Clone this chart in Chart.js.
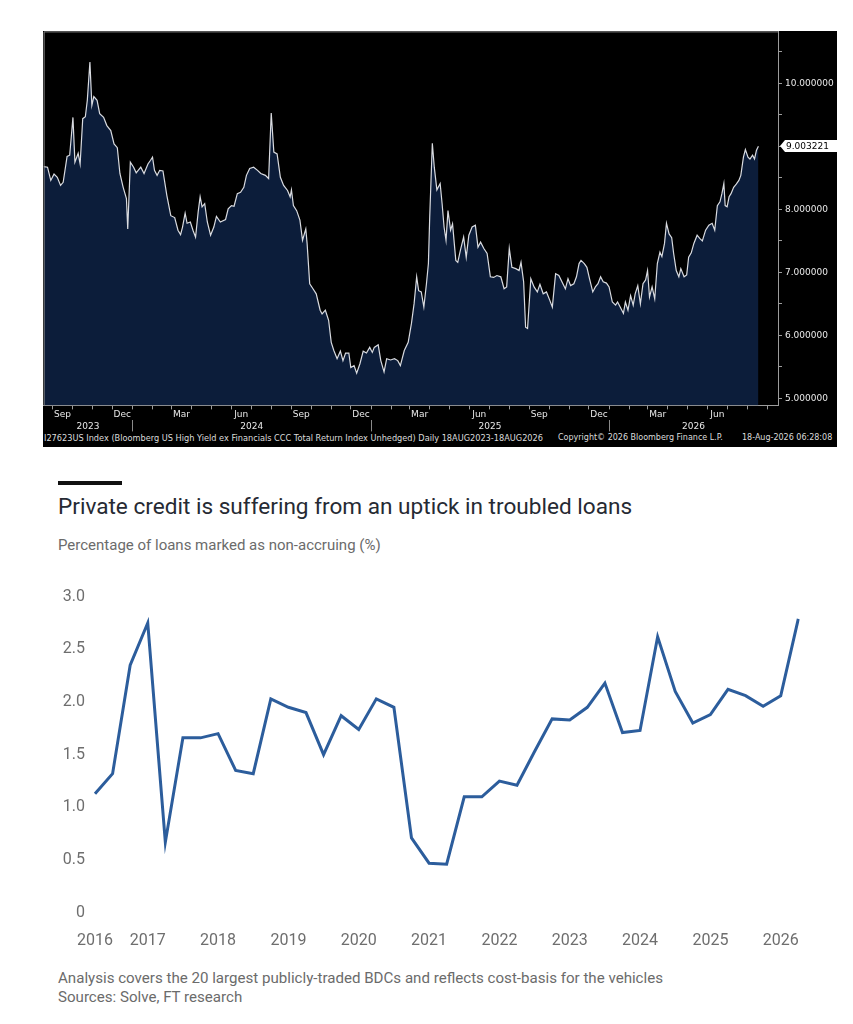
<!DOCTYPE html>
<html>
<head>
<meta charset="utf-8">
<script src="https://cdn.jsdelivr.net/npm/chart.js@4.4.1/dist/chart.umd.min.js"></script>
<style>
  html, body { margin:0; padding:0; background:#fff; }
  body { width:853px; height:1024px; position:relative; overflow:hidden; font-family: Roboto, sans-serif; }
  #bbg { position:absolute; left:43px; top:31px; width:794px; height:416px; background:#000; }
  #topCanvas { position:absolute; left:0; top:0; }
  .foot { position:absolute; top:402px; font-family:'DejaVu Sans', sans-serif; font-size:8px; line-height:10px; color:#dcdcdc; white-space:nowrap; }
  #ftbar { position:absolute; left:58px; top:481px; width:64px; height:4px; background:#111; }
  #fttitle { position:absolute; left:58px; top:493px; font-size:22.6px; line-height:27px; color:#262a33; white-space:nowrap; }
  #ftsub { position:absolute; left:58px; top:535px; font-size:15px; line-height:20px; color:#6b6b6b; white-space:nowrap; }
  #botCanvas { position:absolute; left:0; top:570px; }
  .ftnote { position:absolute; left:58px; font-size:15.1px; line-height:19px; color:#6b6b6b; white-space:nowrap; }
</style>
</head>
<body>
<div id="bbg">
  <canvas id="topCanvas" width="794" height="402"></canvas>
  <div class="foot" style="left:1px;font-size:8.2px">I27623US Index (Bloomberg US High Yield ex Financials CCC Total Return Index Unhedged) Daily 18AUG2023-18AUG2026</div>
  <div class="foot" style="left:515px">Copyright© 2026 Bloomberg Finance L.P.</div>
  <div class="foot" style="left:699px">18-Aug-2026 06:28:08</div>
</div>

<div id="ftbar"></div>
<div id="fttitle">Private credit is suffering from an uptick in troubled loans</div>
<div id="ftsub">Percentage of loans marked as non-accruing (%)</div>
<canvas id="botCanvas" width="853" height="390"></canvas>
<div class="ftnote" style="top:969px">Analysis covers the 20 largest publicly-traded BDCs and reflects cost-basis for the vehicles</div>
<div class="ftnote" style="top:988px">Sources: Solve, FT research</div>

<script>
// ---------------- Top chart data (Bloomberg CCC index) ----------------
const topStartDate = '2023-08-18';
const topEndDate = '2026-08-18';
// days elapsed since topStartDate
const topDays = [
  0,6,11,16,21,26,30,36,40,45,48,53,56,60,64,67,71,74,77,82,86,92,97,103,108,113,117,122,127,129,
  133,138,142,149,154,160,164,167,170,174,178,183,189,195,201,206,210,213,217,220,225,229,233,237,240,243,247,251,256,261,
  265,271,279,283,288,292,297,302,307,311,316,322,328,333,340,345,349,353,358,363,368,374,378,380,383,388,393,397,402,404,
  408,413,418,424,427,432,437,441,445,450,455,459,463,468,471,476,480,485,490,495,500,504,507,513,517,522,526,532,538,543,
  547,553,559,564,568,572,575,579,583,587,590,592,596,599,603,608,611,614,617,620,624,627,632,635,639,644,648,652,657,662,
  666,670,675,680,685,690,695,701,706,710,714,718,724,729,732,736,739,742,747,752,757,761,766,771,776,780,785,790,800,804,
  808,813,817,821,824,829,833,837,842,846,850,854,858,863,867,872,877,880,884,889,892,896,900,904,907,911,915,919,923,926,
  929,933,937,941,945,948,952,955,959,963,966,970,974,977,982,986,989,993,997,1002,1006,1010,1015,1020,1025,1029,1033,1037,1040,1043,
  1045,1048,1051,1054,1058,1062,1066,1069,1073,1076,1080,1083,1087,1090,1093,1096
];
const topValues = [
  8.68,8.67,8.46,8.56,8.51,8.38,8.43,8.84,8.86,9.46,8.75,8.89,8.72,9.44,9.47,9.73,10.34,9.65,9.79,9.73,9.52,9.46,9.33,9.25,9.04,8.98,8.57,8.35,8.17,7.69,
  8.75,8.67,8.58,8.67,8.57,8.72,8.78,8.83,8.62,8.54,8.62,8.61,8.22,7.90,7.87,7.67,7.60,7.72,7.94,7.78,7.80,7.67,7.56,7.96,8.20,8.04,8.09,7.80,7.59,7.72,
  7.89,7.80,7.84,8.01,8.06,8.05,8.25,8.27,8.35,8.54,8.65,8.67,8.62,8.57,8.54,8.49,9.53,8.91,8.88,8.51,8.38,8.30,8.20,8.31,8.06,7.98,7.83,7.51,7.69,7.46,
  6.82,6.74,6.66,6.40,6.34,6.40,6.24,5.89,5.76,5.63,5.75,5.60,5.72,5.72,5.49,5.52,5.40,5.55,5.75,5.72,5.81,5.73,5.81,5.85,5.60,5.42,5.63,5.61,5.63,5.60,
  5.52,5.76,5.89,6.19,6.50,6.93,6.71,6.69,6.45,6.82,7.14,7.88,9.05,8.67,8.31,8.41,8.09,7.72,7.51,7.98,7.67,7.77,7.19,7.16,7.35,7.56,7.24,7.59,7.72,7.75,
  7.40,7.48,7.38,7.30,6.93,6.92,6.95,6.93,6.74,6.77,7.38,7.08,7.06,7.03,7.16,6.85,6.13,6.11,6.90,6.77,6.69,6.81,6.66,6.69,6.56,6.45,6.98,6.95,6.74,6.90,
  6.79,6.82,6.93,7.14,7.19,7.14,7.08,6.90,6.69,6.77,6.82,6.93,6.85,6.83,6.77,6.53,6.48,6.53,6.45,6.35,6.53,6.40,6.63,6.48,6.66,6.79,6.50,6.82,6.88,7.03,
  6.61,6.77,6.58,7.14,7.32,7.25,7.46,7.78,7.61,7.55,7.30,7.03,6.93,7.06,6.93,6.96,7.24,7.31,7.46,7.59,7.54,7.50,7.67,7.75,7.78,7.67,8.06,8.12,8.25,8.41,
  8.06,8.04,8.20,8.25,8.35,8.40,8.46,8.54,8.83,8.95,8.83,8.80,8.86,8.80,8.94,9.003221
];
const topYTickLabels = [5, 6, 7, 8, 9, 10];
const topMonthNames = ['Jan','Feb','Mar','Apr','May','Jun','Jul','Aug','Sep','Oct','Nov','Dec'];
const topLabelledMonths = ['Sep','Dec','Mar','Jun'];
const topYears = [2023, 2024, 2025, 2026];

// ---------------- Bottom chart data (FT) ----------------
const ncQuarters = [
  'Q2 2016','Q3 2016','Q4 2016',
  'Q1 2017','Q2 2017','Q3 2017','Q4 2017',
  'Q1 2018','Q2 2018','Q3 2018','Q4 2018',
  'Q1 2019','Q2 2019','Q3 2019','Q4 2019',
  'Q1 2020','Q2 2020','Q3 2020','Q4 2020',
  'Q1 2021','Q2 2021','Q3 2021','Q4 2021',
  'Q1 2022','Q2 2022','Q3 2022','Q4 2022',
  'Q1 2023','Q2 2023','Q3 2023','Q4 2023',
  'Q1 2024','Q2 2024','Q3 2024','Q4 2024',
  'Q1 2025','Q2 2025','Q3 2025','Q4 2025',
  'Q1 2026','Q2 2026'
];
const ncValues = [
  1.13,1.32,2.35,
  2.75,0.67,1.66,1.66,
  1.70,1.35,1.32,2.03,
  1.95,1.90,1.50,1.87,
  1.74,2.03,1.95,0.71,
  0.47,0.46,1.10,1.10,
  1.25,1.21,1.53,1.84,
  1.83,1.95,2.18,1.71,
  1.73,2.62,2.10,1.80,
  1.88,2.12,2.06,1.96,
  2.06,2.79
];
const ncYTicks = [0, 0.5, 1, 1.5, 2, 2.5, 3];

// ---------------- Top chart ----------------
const DAY = 864e5;
const t0 = Date.parse(topStartDate + 'T00:00:00Z');
const tEnd = (Date.parse(topEndDate + 'T00:00:00Z') - t0) / DAY;
const X_MAX = tEnd + 30;

const monthStarts = [], monthMids = [], midLabel = new Map();
for (const y of topYears) {
  for (let m = 0; m < 12; m++) {
    const s = (Date.UTC(y, m, 1) - t0) / DAY;
    const e = (Date.UTC(y, m + 1, 1) - t0) / DAY;
    if (s > 0 && s < X_MAX) monthStarts.push(s);
    const mid = (s + e) / 2;
    if (s >= 0 && mid < X_MAX) {
      monthMids.push(mid);
      const nm = topMonthNames[m];
      if (topLabelledMonths.includes(nm) && mid <= tEnd) midLabel.set(mid, nm);
    }
  }
}
const monthStartSet = new Set(monthStarts);

const yearBounds = [], yearCenters = [], yearLabel = new Map();
for (const y of topYears) {
  const s = Math.max(0, (Date.UTC(y, 0, 1) - t0) / DAY);
  const e = Math.min(X_MAX, (Date.UTC(y + 1, 0, 1) - t0) / DAY);
  if (s > 0) yearBounds.push(s);
  const c = (s + e) / 2;
  yearCenters.push(c);
  yearLabel.set(c, String(y));
}
const yearBoundSet = new Set(yearBounds);

const bbgFont = { family: "'DejaVu Sans', sans-serif", size: 9 };
const bbgGray = '#9c9c9c';

const framePlugin = {
  id: 'frame',
  afterDraw(chart) {
    const { ctx, chartArea: a } = chart;
    ctx.save();
    ctx.strokeStyle = '#8a8a8a';
    ctx.lineWidth = 1;
    ctx.beginPath();
    ctx.moveTo(a.left + 0.5, a.bottom);
    ctx.lineTo(a.left + 0.5, a.top + 0.5);
    ctx.lineTo(a.right, a.top + 0.5);
    ctx.stroke();
    ctx.restore();
  }
};

const lastLabelPlugin = {
  id: 'lastLabel',
  afterDraw(chart) {
    const { ctx, chartArea: a } = chart;
    const v = topValues[topValues.length - 1];
    const py = Math.round(chart.scales.y.getPixelForValue(v));
    const x0 = a.right + 2, x1 = chart.width;
    ctx.save();
    ctx.fillStyle = '#ffffff';
    ctx.beginPath();
    ctx.moveTo(x0, py);
    ctx.lineTo(x0 + 5, py - 6);
    ctx.lineTo(x1, py - 6);
    ctx.lineTo(x1, py + 6);
    ctx.lineTo(x0 + 5, py + 6);
    ctx.closePath();
    ctx.fill();
    ctx.fillStyle = '#000';
    ctx.font = "9px 'DejaVu Sans', sans-serif";
    ctx.textBaseline = 'middle';
    ctx.fillText(v.toFixed(6), x0 + 6, py + 0.5);
    ctx.restore();
  }
};

const topCanvas = document.getElementById('topCanvas');
const topChart = new Chart(topCanvas, {
  type: 'line',
  data: {
    datasets: [{
      data: topDays.map((d, i) => ({ x: d, y: topValues[i] })),
      borderColor: '#d9dbe0',
      borderWidth: 1.2,
      backgroundColor: '#0c1d3a',
      fill: 'start',
      pointRadius: 0,
      tension: 0
    }]
  },
  options: {
    responsive: false,
    maintainAspectRatio: false,
    animation: false,
    layout: { padding: 0 },
    plugins: { legend: { display: false }, tooltip: { enabled: false } },
    scales: {
      x: {
        type: 'linear', position: 'bottom', min: 0, max: X_MAX,
        afterBuildTicks: (ax) => { ax.ticks = [...monthStarts, ...monthMids].sort((p, q) => p - q).map(v => ({ value: v })); },
        afterFit: (ax) => { ax.height = 15; },
        grid: { drawOnChartArea: false, tickLength: 4, color: (c) => (c.tick && monthStartSet.has(c.tick.value)) ? bbgGray : 'rgba(0,0,0,0)' },
        border: { display: true, color: bbgGray },
        ticks: { autoSkip: false, maxRotation: 0, padding: 0, color: '#e8e8e8', font: bbgFont, callback: (v) => midLabel.get(v) || '' }
      },
      x2: {
        type: 'linear', position: 'bottom', min: 0, max: X_MAX,
        afterBuildTicks: (ax) => { ax.ticks = [...yearBounds, ...yearCenters].sort((p, q) => p - q).map(v => ({ value: v })); },
        afterFit: (ax) => { ax.height = 13; },
        grid: { drawOnChartArea: false, tickLength: 11, color: (c) => (c.tick && yearBoundSet.has(c.tick.value)) ? '#8a8a8a' : 'rgba(0,0,0,0)' },
        border: { display: false },
        ticks: { autoSkip: false, maxRotation: 0, padding: -10, color: '#e8e8e8', font: bbgFont, callback: (v) => yearLabel.get(v) || '' }
      },
      y: {
        type: 'linear', position: 'right', min: 4.889, max: 10.825,
        afterBuildTicks: (ax) => {
          const t = [];
          topYTickLabels.forEach(v => { t.push({ value: v }); if (v + 0.5 < ax.max) t.push({ value: v + 0.5 }); });
          ax.ticks = t;
        },
        afterFit: (ax) => { ax.width = 59; },
        grid: { drawOnChartArea: false, tickLength: 4, color: bbgGray },
        border: { display: true, color: bbgGray },
        ticks: { padding: 3, color: '#e8e8e8', font: bbgFont, callback: (v) => topYTickLabels.includes(v) ? v.toFixed(6) : '' }
      }
    }
  },
  plugins: [framePlugin, lastLabelPlugin]
});
// align the plot frame with the top edge of the black panel
const topOff = topChart.chartArea.top;
if (topOff > 0) {
  topCanvas.style.top = (-topOff) + 'px';
  topChart.resize(794, 402 + topOff);
}

// ---------------- Bottom chart ----------------
new Chart(document.getElementById('botCanvas'), {
  type: 'line',
  data: {
    labels: ncQuarters,
    datasets: [{
      data: ncValues,
      borderColor: '#2c5d9c',
      borderWidth: 3,
      pointRadius: 0,
      tension: 0,
      fill: false,
      borderJoinStyle: 'miter'
    }]
  },
  options: {
    responsive: false,
    animation: false,
    layout: { padding: { top: 26.7, left: 63, right: 54.7, bottom: 7.3 } },
    plugins: { legend: { display: false }, tooltip: { enabled: false } },
    scales: {
      x: {
        type: 'category', offset: false,
        afterFit: (ax) => { ax.height = 40; },
        grid: { display: false, drawTicks: false },
        border: { display: false },
        ticks: {
          autoSkip: false, maxRotation: 0, padding: 19, color: '#6e6e6e',
          font: { family: 'Roboto', size: 16 },
          callback: (v, i) => (i === 0 || ncQuarters[i].startsWith('Q1')) ? ncQuarters[i].slice(3) : ''
        }
      },
      y: {
        min: 0, max: 3,
        afterBuildTicks: (ax) => { ax.ticks = ncYTicks.map(v => ({ value: v })); },
        afterFit: (ax) => { ax.width = 32; },
        grid: { display: false, drawTicks: false },
        border: { display: false },
        ticks: {
          padding: 10, color: '#6e6e6e',
          font: { family: 'Roboto', size: 16 },
          callback: (v) => v === 0 ? '0' : v.toFixed(1)
        }
      }
    }
  }
});
</script>
</body>
</html>
